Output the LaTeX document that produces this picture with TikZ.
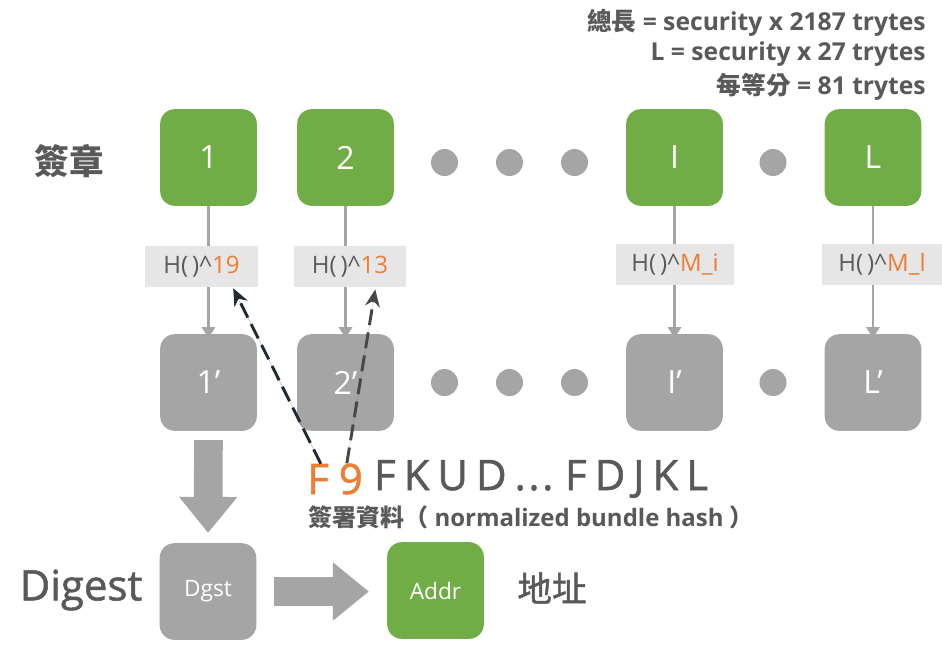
\documentclass[tikz,border=0pt]{standalone}
\usepackage{fontspec}
\setmainfont{Open Sans}
\newfontfamily\cjk{Noto Sans CJK TC}
\newfontfamily\medium[FakeBold=1.3]{Open Sans}
\newfontfamily\cjkmedium[FakeBold=1.3]{Noto Sans CJK TC}
\usepackage{xcolor}
\usetikzlibrary{positioning,calc,arrows.meta}

\definecolor{sigGreen}{HTML}{70AD47}
\definecolor{keyGray}{HTML}{A5A5A5}
\definecolor{hashFill}{HTML}{E7E6E6}
\definecolor{txtGray}{HTML}{595959}
\definecolor{hiOrange}{HTML}{ED7D31}
\definecolor{ptrNavy}{HTML}{222A35}
\definecolor{ptrGray}{HTML}{474747}

\newcommand{\hashpow}[1]{H(\,)\textasciicircum\textcolor{hiOrange}{#1}}
\newcommand{\px}[1]{\fontsize{#1}{#1}\selectfont}

\tikzset{
  sigbox/.style={fill=sigGreen, rounded corners=11pt, minimum width=72.5pt, minimum height=72.5pt,
                 inner sep=0pt, text=white, font=\px{24pt}},
  keybox/.style={sigbox, fill=keyGray},
  hashbox/.style={fill=hashFill, minimum height=30.75pt, inner sep=0pt, text=txtGray, font=\px{18pt}},
  gapdot/.style={circle, fill=keyGray, minimum size=20.25pt, inner sep=0pt},
  chainline/.style={draw=keyGray, line width=1.6pt},
  chainarrow/.style={chainline, -{Triangle[length=8pt,width=10pt]}},
  hashptr/.style={line width=2.2pt, dash pattern=on 12pt off 5.5pt, -{Stealth[length=13pt,width=11pt]}},
  bigarrow/.style={draw=keyGray, line width=21.5pt, -{Triangle[length=27pt,width=42pt]}},
  rowlabel/.style={text=txtGray, inner sep=0pt},
  hashseq/.style={inner sep=0pt, font=\medium\px{31.5pt}}
}

\begin{document}
\begin{tikzpicture}[x=0.75pt, y=-0.75pt]
    \useasboundingbox (0,0) rectangle (942,644);

    % Sizes
    \node[rowlabel, anchor=east, align=right, font=\bfseries\px{18.5pt}] (sizes) at (926,55)
      {{\cjk 總長} = security x 2187 trytes\\[4pt]
       L = security x 27 trytes\\[4pt]
       {\cjk 每等分} = 81 trytes};

    % Signature row
    \node[rowlabel, font=\cjk\bfseries\px{26pt}] (siglabel) at (69,161) {簽章};
    \node[sigbox] (s1) at (208.5,157.5) {1};
    \node[sigbox] (s2) at (345.5,157.5) {2};
    \node[sigbox] (si) at (674.5,157.5) {I};
    \node[sigbox] (sl) at (873,157.5) {L};
    \node[gapdot] (d1) at (444.5,162.5) {};
    \node[gapdot] (d2) at (509.5,162.5) {};
    \node[gapdot] (d3) at (574.5,162.5) {};
    \node[gapdot] (d4) at (773,162.5) {};

    % Hash boxes
    \node[hashbox, minimum width=84.75pt] (h1) at (201.5,266.5) {\hashpow{19}};
    \node[hashbox, minimum width=84pt] (h2) at (350,266.5) {\hashpow{13}};
    \node[hashbox, minimum width=88.5pt] (hi) at (675,264.5) {\hashpow{M\_i}};
    \node[hashbox, minimum width=90pt] (hl) at (882,264.5) {\hashpow{M\_l}};

    % Key row
    \node[keybox] (k1) at (208.5,382.5) {1’};
    \node[keybox] (k2) at (345.5,382.5) {2’};
    \node[keybox] (ki) at (674.5,382.5) {I’};
    \node[keybox] (kl) at (873,382.5) {L’};
    \node[gapdot] (e1) at (444.5,382.5) {};
    \node[gapdot] (e2) at (509.5,382.5) {};
    \node[gapdot] (e3) at (574.5,382.5) {};
    \node[gapdot] (e4) at (773,382.5) {};

    % Chains
    \foreach \c in {1,2,i,l}{
      \draw[chainline] (s\c.south) -- (s\c.south |- h\c.north);
      \draw[chainarrow] (s\c.south |- h\c.south) -- ([yshift=-3]k\c.north);
    }

    % Normalized bundle hash
    \node[hashseq, anchor=west, text=hiOrange] (nF) at (307,479) {F};
    \node[hashseq, right=7pt of nF, text=hiOrange] (n9) {9};
    \node[hashseq, right=8pt of n9, text=txtGray] (nrest)
      {\spaceskip=0.19em F K U D .\kern2pt.\kern2pt. F D J K L};
    \node[rowlabel, anchor=west, font=\bfseries\px{18pt}] (ncap) at (308,517)
      {{\cjk 簽署資料（} normalized bundle hash {\cjk ）}};

    % Pointers
    \draw[hashptr, draw=ptrNavy, fill=ptrNavy] ([xshift=2]nF.north) -- ($(h1.south east)+(-25,1)$);
    \draw[hashptr, draw=ptrGray, fill=ptrGray] ([xshift=-3]n9.north) -- ($(h2.south east)+(-31,2)$);

    % Digest and address
    \node[rowlabel, font=\medium\px{31.5pt}] (dglabel) at (81,590) {Digest};
    \node[keybox, font=\px{17pt}] (dgst) at (208,591.5) {Dgst};
    \node[sigbox, font=\px{17pt}] (addr) at (435.5,590.5) {Addr};
    \node[rowlabel, font=\cjkmedium\px{26pt}] (addrlabel) at (552,588) {地址};

    \draw[bigarrow, shorten <=6.75pt, shorten >=7.5pt] (k1.south) -- (dgst.north);
    \draw[bigarrow, shorten <=12.75pt, shorten >=13.5pt] (dgst.east) -- (dgst.east -| addr.west);
\end{tikzpicture}
\end{document}
